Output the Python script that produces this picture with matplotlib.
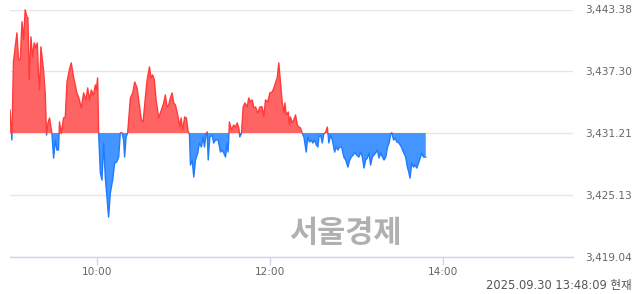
import numpy as np
import matplotlib
matplotlib.use('Agg')
import matplotlib.pyplot as plt
from matplotlib.patches import Rectangle

#%% data (minutes after 09:00, index value)

base = 3431.21
y_ticks = [3419.04, 3425.13, 3431.21, 3437.30, 3443.38]
x_ticks = [60, 180, 300]
x_labels = ['10:00', '12:00', '14:00']

minutes = [0, 1.3, 2.4, 4.8, 5.9, 7.1, 8.3, 9.4, 10.5, 11.7, 12.4, 13.3, 14.5, 15.6, 16.8,
           18.0, 18.9, 19.8, 20.5, 21.4, 23.2, 24.4, 25.3, 26.3, 27.4, 29.1, 30.2, 31.4,
           32.5, 33.6, 34.3, 35.5, 37.1, 38.3, 39.5, 41.1, 42.4, 44.0, 45.2, 46.3, 47.5,
           49.4, 51.0, 52.6, 53.8, 55.1, 56.3, 57.9, 59.1, 59.8, 60.7, 61.4, 62.6, 63.7,
           64.9, 66.0, 68.3, 69.5, 71.1, 72.5, 73.9, 75.3, 76.4, 77.6, 78.7, 79.4, 80.4,
           81.5, 83.4, 85.0, 86.4, 88.0, 89.1, 91.0, 92.2, 93.8, 95.0, 96.6, 97.7, 98.8,
           100.0, 101.2, 103.0, 104.9, 106.5, 107.6, 108.8, 109.9, 111.1, 112.3, 113.4,
           114.6, 116.2, 117.6, 118.5, 119.6, 121.0, 122.2, 123.4, 124.3, 125.0, 126.2,
           127.3, 128.5, 130.1, 131.2, 132.6, 133.8, 134.7, 135.9, 136.6, 137.3, 138.4,
           140.0, 141.1, 142.3, 144.2, 145.8, 147.0, 148.1, 149.3, 150.4, 151.1, 152.0,
           153.4, 155.0, 156.2, 157.4, 158.5, 159.2, 160.4, 161.5, 162.7, 164.3, 165.4,
           166.6, 167.8, 168.9, 170.1, 171.7, 173.1, 174.7, 175.8, 177.0, 178.6, 180.0,
           181.7, 182.8, 183.9, 185.1, 186.2, 187.4, 188.6, 189.7, 190.4, 191.4, 192.8,
           193.6, 194.3, 195.5, 196.6, 197.8, 199.0, 200.1, 201.3, 202.5, 203.6, 205.2,
           206.3, 207.5, 208.7, 209.8, 211.0, 212.2, 213.3, 214.0, 215.2, 216.3, 217.4,
           218.6, 219.8, 220.9, 222.1, 223.3, 224.9, 226.0, 227.2, 228.3, 229.7, 231.3,
           232.5, 234.1, 235.3, 236.4, 237.8, 238.7, 240.1, 241.7, 242.9, 244.1, 245.2,
           246.4, 247.5, 248.7, 249.8, 251.0, 252.1, 253.3, 254.5, 255.6, 256.8, 258.0,
           259.1, 260.3, 261.5, 262.6, 263.8, 264.5, 265.7, 266.8, 268.0, 269.5, 271.1,
           272.5, 274.1, 275.3, 276.4, 277.1, 278.3, 279.5, 280.6, 281.8, 283.0, 284.1,
           285.3, 286.4, 288.0]

values = [3433.48, 3430.52, 3438.22, 3441.08, 3438.42, 3438.42, 3442.17, 3440.39, 3443.35,
          3442.66, 3442.56, 3436.44, 3440.69, 3438.71, 3440.09, 3439.60, 3440.09, 3436.74,
          3435.45, 3439.70, 3437.43, 3435.16, 3431.00, 3432.20, 3432.69, 3431.10, 3428.74,
          3430.52, 3429.53, 3429.53, 3432.30, 3431.15, 3432.69, 3432.79, 3436.24, 3437.43,
          3438.12, 3436.74, 3435.95, 3435.16, 3434.76, 3433.68, 3435.16, 3434.47, 3435.65,
          3434.47, 3435.45, 3434.96, 3435.95, 3435.45, 3436.64, 3431.15, 3427.26, 3426.57,
          3430.22, 3426.87, 3422.92, 3425.29, 3426.57, 3428.25, 3428.35, 3428.84, 3431.20,
          3431.25, 3430.52, 3428.84, 3430.82, 3431.21, 3434.66, 3435.16, 3436.24, 3435.65,
          3434.47, 3432.49, 3432.30, 3434.76, 3436.44, 3437.72, 3436.64, 3436.93, 3436.44,
          3434.47, 3432.69, 3433.48, 3434.17, 3434.96, 3433.78, 3433.97, 3434.66, 3435.16,
          3434.17, 3433.97, 3432.99, 3431.80, 3432.69, 3431.51, 3432.79, 3432.69, 3431.31,
          3431.15, 3428.05, 3428.55, 3426.87, 3428.55, 3429.24, 3430.22, 3429.83, 3430.82,
          3429.83, 3431.15, 3431.31, 3428.55, 3430.82, 3431.00, 3430.22, 3430.52, 3430.52,
          3429.33, 3429.53, 3429.24, 3428.84, 3430.22, 3429.33, 3432.30, 3431.51, 3432.00,
          3431.80, 3432.20, 3431.70, 3430.82, 3431.21, 3433.78, 3434.17, 3433.78, 3434.66,
          3434.27, 3434.47, 3433.68, 3433.78, 3433.18, 3433.78, 3433.78, 3432.79, 3434.47,
          3434.27, 3435.16, 3435.26, 3435.65, 3436.15, 3436.64, 3438.12, 3436.15, 3434.17,
          3433.18, 3434.17, 3432.99, 3433.28, 3432.00, 3432.79, 3432.20, 3432.49, 3432.99,
          3432.00, 3431.80, 3431.70, 3431.15, 3430.82, 3429.33, 3430.82, 3430.32, 3430.52,
          3430.22, 3430.52, 3430.03, 3429.83, 3430.82, 3431.01, 3430.22, 3431.15, 3431.25,
          3431.80, 3430.22, 3431.01, 3430.52, 3429.33, 3429.83, 3429.53, 3429.83, 3429.83,
          3428.84, 3428.55, 3427.85, 3428.55, 3428.84, 3429.04, 3429.33, 3429.04, 3428.84,
          3429.33, 3428.84, 3427.76, 3428.55, 3428.74, 3429.24, 3428.05, 3428.84, 3429.04,
          3429.24, 3429.53, 3428.74, 3429.24, 3428.84, 3428.55, 3428.84, 3429.83, 3430.22,
          3431.15, 3431.25, 3430.52, 3430.72, 3430.32, 3430.22, 3429.83, 3429.33, 3428.84,
          3427.85, 3427.26, 3426.77, 3428.25, 3427.85, 3428.05, 3427.76, 3428.25, 3428.74,
          3429.24, 3428.84, 3428.84]

stamp = '2025.09.30 13:48:09 현재'
watermark = '서울경제'

#%% plot

t = np.array(minutes)
v = np.array(values)

red_fill, red_line = '#ff6464', '#ff3b3b'
blue_fill, blue_line = '#4495ff', '#1f7bff'

fig = plt.figure(figsize=(6.4, 2.94), dpi=100)
ax = fig.add_axes([10 / 640, 1 - 256.5 / 294, 563 / 640, 247 / 294])
ax.set_xlim(0, 390)
ax.set_ylim(y_ticks[0], y_ticks[-1])

ax.fill_between(t, v, base, where=v >= base, interpolate=True, color=red_fill, lw=0, zorder=2)
ax.fill_between(t, v, base, where=v <= base, interpolate=True, color=blue_fill, lw=0, zorder=2)

# line in two colours, clipped above / below the base value
up, = ax.plot(t, v, color=red_line, lw=1.0, zorder=3)
dn, = ax.plot(t, v, color=blue_line, lw=1.0, zorder=3)
up.set_clip_path(Rectangle((0, base), 390, 20, transform=ax.transData))
dn.set_clip_path(Rectangle((0, base - 20), 390, 20, transform=ax.transData))

for s in ['top', 'right', 'left']:
    ax.spines[s].set_visible(False)
ax.spines['bottom'].set_color('#ccd6eb')
ax.spines['bottom'].set_linewidth(1)

ax.set_yticks(y_ticks)
ax.set_yticklabels(['{:,.2f}'.format(y) for y in y_ticks])
ax.yaxis.tick_right()
ax.tick_params(axis='y', length=0, pad=42.5, labelsize=7.6, labelcolor='#666666')
for lab in ax.get_yticklabels():
    lab.set_horizontalalignment('right')
ax.grid(axis='y', color='#e6e6e6', lw=1, zorder=0)

ax.set_xticks(x_ticks)
ax.set_xticklabels(x_labels)
ax.tick_params(axis='x', length=6, width=1, color='#ccd6eb', pad=1.5,
               labelsize=7.6, labelcolor='#666666')

fig.text(345 / 640, 1 - 233 / 294, watermark, ha='center', va='center', fontsize=22,
         fontweight='bold', color='#b0b0b0', family=['Noto Sans CJK KR', 'DejaVu Sans'],
         zorder=1)

fig.text(632 / 640, 1 - 286 / 294, stamp, ha='right', va='center', fontsize=8.3,
         color='#555555', family=['DejaVu Sans', 'Noto Sans CJK KR'])

fig.savefig('out.png', dpi=100)
